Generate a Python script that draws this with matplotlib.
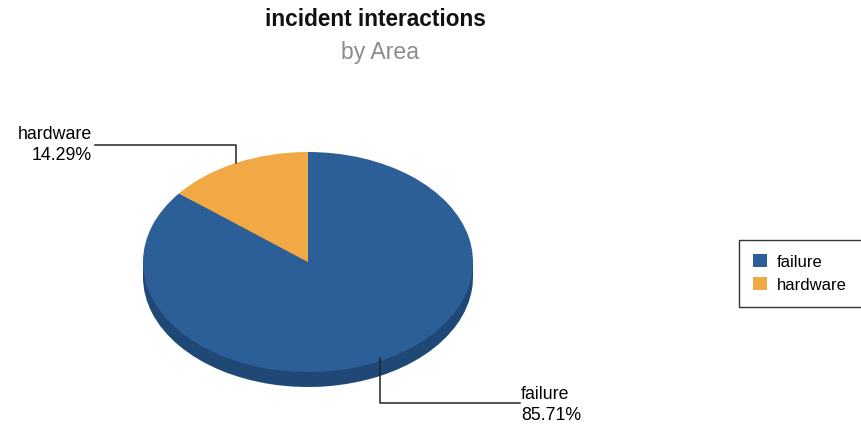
import numpy as np
import matplotlib
matplotlib.use("Agg")
import matplotlib.pyplot as plt
from matplotlib.patches import Rectangle, Patch

plt.rcParams['font.family'] = ['Liberation Sans', 'DejaVu Sans']

# data
areas = ["failure", "hardware"]
counts = [6, 1]
pct_labels = ["85.71%", "14.29%"]

top_colors = ["#2c5e98", "#f0a945"]
side_colors = ["#1f4877", "#b97f2c"]

W, H = 861, 424
fig = plt.figure(figsize=(W / 100, H / 100), dpi=100)

# pie geometry in pixels
cx, cy, rx, ry, depth = 308, 262, 165, 110, 15
d = depth / ry

ax = fig.add_axes([(cx - rx) / W, 1 - (cy + ry + depth) / H,
                   2 * rx / W, (2 * ry + depth) / H])

# side of the disc (drawn first, underneath)
ax.pie(counts, colors=side_colors, startangle=90, counterclock=False,
       radius=1, center=(0, -d), wedgeprops=dict(linewidth=0))
ax.add_patch(Rectangle((-1, -d), 2, d, facecolor=side_colors[0],
                       edgecolor="none", zorder=0.5))
# top face
wedges, _ = ax.pie(counts, colors=top_colors, startangle=90,
                   counterclock=False, radius=1,
                   wedgeprops=dict(linewidth=0))
for w in wedges:
    w.set_zorder(2)

ax.set_aspect('auto')
ax.set_xlim(-1, 1)
ax.set_ylim(-1 - d, 1)
ax.axis('off')

# leader lines and labels
line_kw = dict(color="#222222", lw=1.1, clip_on=False, zorder=3)
for w, name, pct in zip(wedges, areas, pct_labels):
    mid = np.deg2rad((w.theta1 + w.theta2) / 2)
    x0, y0 = np.cos(mid), np.sin(mid)
    if y0 > 0:
        yk = (cy - 145) / ry
        xe = (95 - cx) / rx
        ax.plot([x0, x0, xe], [y0, yk, yk], **line_kw)
        ax.text((92 - cx) / rx, yk, f"{name}\n{pct}", ha='right', va='center',
                multialignment='right', fontsize=12.8, linespacing=1.3,
                clip_on=False)
    else:
        yk = (cy - 403) / ry
        xe = (520 - cx) / rx
        ax.plot([x0, x0, xe], [y0 + 0.03, yk, yk], **line_kw)
        ax.text((521 - cx) / rx, yk - 0.02, f"{name}\n{pct}", ha='left',
                va='center', multialignment='left', fontsize=12.8,
                linespacing=1.3, clip_on=False)

# titles
fig.text(375.5 / W, 1 - 20 / H, "incident interactions", ha='center',
         va='center', fontsize=16.3, fontweight='bold', color="#111111")
fig.text(380 / W, 1 - 53 / H, "by Area", ha='center', va='center',
         fontsize=16.6, color="#8c8c8c")

# legend
handles = [Patch(facecolor=c, edgecolor='none') for c in top_colors]
leg = fig.legend(handles, areas, loc='upper left',
                 bbox_to_anchor=(739 / W, 1 - 240 / H, 0.2, 0.0),
                 mode='expand', fontsize=12, frameon=True, fancybox=False,
                 edgecolor='black', handlelength=0.85, handleheight=0.85,
                 handletextpad=0.55, borderpad=0.85, labelspacing=0.45,
                 borderaxespad=0)
leg.get_frame().set_linewidth(1.0)

fig.savefig("out.png", dpi=100)
